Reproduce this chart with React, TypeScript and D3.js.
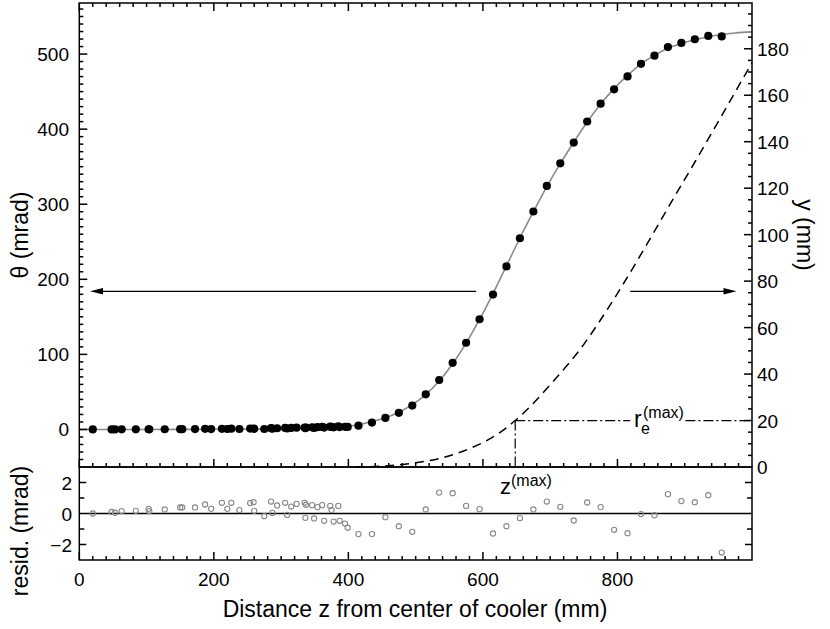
import React from 'react';
import * as d3 from 'd3';

// ---- data ----
const zPoints = [20, 48, 53, 63, 84, 103, 104, 127, 150, 153, 172, 187, 196, 212, 220, 226, 238, 254, 259, 260, 275, 285, 287, 294, 306, 309, 315, 323, 335, 336, 337, 346, 349, 354, 361, 364, 373, 375, 378, 385, 387, 395, 399,
  415, 435, 455, 475, 495, 515, 535, 555, 575, 595, 615, 635, 655, 675, 695, 715, 735, 755, 775, 795, 815, 835, 855, 875, 895, 915, 935, 955];
const thetaPoints = [0, 0.1, 0.05, 0.15, 0.2, 0.3, 0.15, 0.3, 0.4, 0.4, 0.5, 0.8, 0.5, 0.9, 0.6, 1.0, 0.6, 1.2, 1.3, 0.8, 0.6, 1.7, 1.0, 1.6, 2.0, 1.3, 2.0, 2.4, 2.6, 1.6, 2.5, 2.8, 2.0, 3.0, 3.4, 2.5, 3.7, 3.4, 2.9, 4.2, 3.2, 3.5, 3.4,
  5.0, 9.2, 15.4, 22.2, 31.8, 46.8, 65.9, 88.8, 115.5, 146.8, 179.7, 217.2, 254.7, 290.3, 324.3, 354.4, 382.1, 410.2, 433.9, 453.0, 470.2, 487.0, 497.9, 509.3, 514.8, 519.7, 524.2, 523.5];
const residPoints = [0.0, 0.1, 0.05, 0.15, 0.17, 0.3, 0.15, 0.26, 0.39, 0.39, 0.39, 0.58, 0.3, 0.69, 0.3, 0.69, 0.22, 0.67, 0.73, 0.17, -0.17, 0.77, 0.04, 0.52, 0.69, -0.09, 0.45, 0.62, 0.69, -0.28, 0.56, 0.54, -0.32, 0.41, 0.54, -0.47, 0.49, 0.22, -0.52, 0.49, -0.47, -0.65, -0.92,
  -1.33, -1.33, -0.24, -0.82, -1.18, 0.26, 1.35, 1.31, 0.49, 0.28, -1.29, -0.82, -0.3, 0.26, 0.77, 0.43, -0.45, 0.71, 0.41, -1.05, -1.27, -0.04, -0.11, 1.25, 0.8, 0.73, 1.18, -2.52];

const fitZ = [0, 100, 200, 250, 300, 350, 380, 400, 415, 435, 455, 475, 495, 515, 535, 555, 575, 595, 615, 635, 655, 675, 695, 715, 735, 755, 775, 795, 815, 835, 855, 875, 895, 915, 935, 955, 975, 1000];
const fitTheta = [0, 0, 0.3, 0.6, 1, 2, 3, 4.3, 6.3, 10.5, 15.6, 23, 33, 46.5, 64.5, 87.5, 115, 146.5, 181, 218, 255, 290, 323.5, 354, 382.5, 409.5, 433.5, 454, 471.5, 487, 498, 508, 514, 519, 523, 526, 528, 529.5];

const trajZ = [410, 450, 500, 540, 580, 620, 648, 705, 750, 770, 807, 844, 878, 916, 953, 992, 1000];
const trajY = [0, 0.4, 1.8, 4.0, 7.9, 13.8, 20, 37, 52.8, 61.2, 78, 96, 113, 131.7, 150.2, 170, 174];

const zMax = 648;
const reMax = 20;
const reLabelGap = [819, 901];
const arrowTheta = 184;
const arrowLeft = [590, 16];
const arrowRight = [819, 977];

const xTicks = [0, 200, 400, 600, 800];
const thetaTicks = [0, 100, 200, 300, 400, 500];
const yTicks = [0, 20, 40, 60, 80, 100, 120, 140, 160, 180];
const residTicks = [-2, 0, 2];

const FONT = '"Liberation Sans", Arial, Helvetica, sans-serif';

export default function App() {
  const L = 79.3, R = 752, T = 3, MB = 467, RB = 560;
  const x = d3.scaleLinear().domain([0, 1000]).range([L, R]);
  const yTh = d3.scaleLinear().domain([-50, 568]).range([MB, T]);
  const yMm = d3.scaleLinear().domain([0, 199.7]).range([MB, T]);
  const yRes = d3.scaleLinear().domain([-3, 3]).range([RB, MB]);

  const fitLine = d3.line<number>().x((_, i) => x(fitZ[i])).y((d) => yTh(d)).curve(d3.curveMonotoneX);
  const trajLine = d3.line<number>().x((_, i) => x(trajZ[i])).y((d) => yMm(d)).curve(d3.curveMonotoneX);

  const ticks: JSX.Element[] = [];
  let k = 0;
  for (let v = 0; v < 1000; v += 20) {
    const len = v % 200 === 0 ? 8 : 4;
    const xx = x(v);
    ticks.push(<line key={k++} x1={xx} x2={xx} y1={T} y2={T + len} />);
    ticks.push(<line key={k++} x1={xx} x2={xx} y1={MB} y2={MB - len} />);
    ticks.push(<line key={k++} x1={xx} x2={xx} y1={RB} y2={RB - len} />);
  }
  for (let v = -40; v <= 560; v += 10) {
    const len = v % 100 === 0 ? 8 : 4;
    const yy = yTh(v);
    ticks.push(<line key={k++} x1={L} x2={L + len} y1={yy} y2={yy} />);
  }
  for (let v = 5; v <= 195; v += 5) {
    const len = v % 20 === 0 ? 8 : 4;
    const yy = yMm(v);
    ticks.push(<line key={k++} x1={R} x2={R - len} y1={yy} y2={yy} />);
  }
  for (let v = -2; v <= 2; v += 1) {
    if (v === 0) continue;
    const len = v % 2 === 0 ? 7 : 5;
    const yy = yRes(v);
    ticks.push(<line key={k++} x1={L} x2={L + len} y1={yy} y2={yy} />);
    ticks.push(<line key={k++} x1={R} x2={R - len} y1={yy} y2={yy} />);
  }

  const arrowHead = (tipX: number, dir: number, yy: number) => {
    const len = 13, hw = 3.2;
    return `M${tipX},${yy} L${tipX - dir * len},${yy - hw} L${tipX - dir * len},${yy + hw} Z`;
  };
  const ay = yTh(arrowTheta);

  return (
    <svg width={830} height={629} style={{ position: 'absolute', left: 0, top: 0, background: '#fff' }} fontFamily={FONT}>
      <rect x={0} y={0} width={830} height={629} fill="#fff" />
      <path d={fitLine(fitTheta) || ''} fill="none" stroke="#8a8a8a" strokeWidth={1.6} />
      <path d={trajLine(trajY) || ''} fill="none" stroke="#000" strokeWidth={1.5} strokeDasharray="9,6" />
      <g stroke="#000" strokeWidth={1.2} strokeDasharray="10,3,2,3" fill="none">
        <line x1={x(zMax)} x2={x(zMax)} y1={yMm(reMax)} y2={MB} />
        <line x1={x(zMax)} x2={x(reLabelGap[0])} y1={yMm(reMax)} y2={yMm(reMax)} />
        <line x1={x(reLabelGap[1])} x2={R} y1={yMm(reMax)} y2={yMm(reMax)} />
      </g>
      <g stroke="#000" strokeWidth={1.3}>
        <line x1={x(arrowLeft[0])} x2={x(arrowLeft[1]) + 10} y1={ay} y2={ay} />
        <line x1={x(arrowRight[0])} x2={x(arrowRight[1]) - 10} y1={ay} y2={ay} />
      </g>
      <path d={arrowHead(x(arrowLeft[1]), -1, ay)} fill="#000" />
      <path d={arrowHead(x(arrowRight[1]), 1, ay)} fill="#000" />
      {zPoints.map((z, i) => (
        <circle key={'p' + i} cx={x(z)} cy={yTh(thetaPoints[i])} r={4.1} fill="#000" />
      ))}
      <line x1={L} x2={R} y1={yRes(0)} y2={yRes(0)} stroke="#000" strokeWidth={1.5} />
      {zPoints.map((z, i) => (
        <circle key={'r' + i} cx={x(z)} cy={yRes(residPoints[i])} r={2.6} fill="none" stroke="#888" strokeWidth={1.1} />
      ))}
      <g stroke="#000" strokeWidth={1.5} fill="none">
        {ticks}
        <rect x={L} y={T} width={R - L} height={MB - T} />
        <rect x={L} y={MB} width={R - L} height={RB - MB} />
      </g>
      <g fontSize={19} fill="#000">
        {xTicks.map((v) => (
          <text key={'xt' + v} x={x(v)} y={586} textAnchor="middle">{v}</text>
        ))}
        {thetaTicks.map((v) => (
          <text key={'tt' + v} x={69} y={yTh(v) + 7} textAnchor="end">{v}</text>
        ))}
        {yTicks.map((v) => (
          <text key={'yt' + v} x={757} y={yMm(v) + 7} textAnchor="start">{v}</text>
        ))}
        {residTicks.map((v) => (
          <text key={'rt' + v} x={72} y={yRes(v) + 7} textAnchor="end">{v < 0 ? '\u2212' + Math.abs(v) : v}</text>
        ))}
      </g>
      <g fontSize={23} fill="#000">
        <text x={415} y={617} textAnchor="middle">Distance z from center of cooler (mm)</text>
        <text transform={`translate(28,${(T + MB) / 2}) rotate(-90)`} textAnchor="middle">θ (mrad)</text>
        <text transform={`translate(28,531) rotate(-90)`} textAnchor="middle">resid. (mrad)</text>
        <text transform={`translate(797,${(T + MB) / 2}) rotate(90)`} textAnchor="middle">y (mm)</text>
      </g>
      <g fill="#000">
        <text x={500} y={494} fontSize={22}>z</text>
        <text x={511} y={486} fontSize={16}>(max)</text>
        <text x={634} y={427} fontSize={23}>r</text>
        <text x={641} y={434} fontSize={16}>e</text>
        <text x={643} y={418} fontSize={16}>(max)</text>
      </g>
    </svg>
  );
}
